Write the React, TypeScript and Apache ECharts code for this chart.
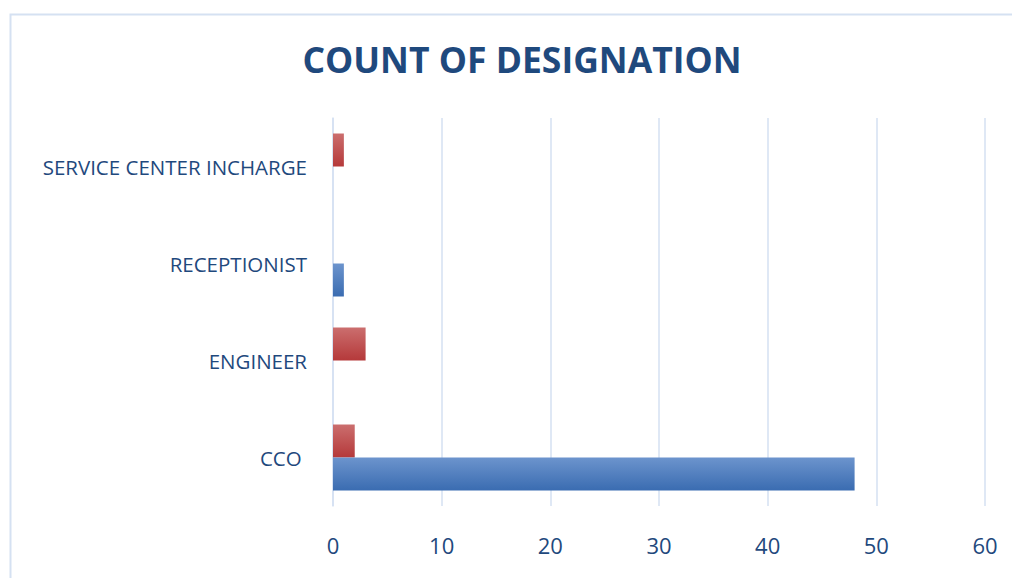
import React, { useEffect, useRef } from "react";
import * as echarts from "echarts";

const categories = ["CCO ", "ENGINEER", "RECEPTIONIST", "SERVICE CENTER INCHARGE"];
const seriesBlue = [48, 0, 1, 0];
const seriesRed = [2, 3, 0, 1];
const valueTicks = { min: 0, max: 60, interval: 10 };

const TEXT = "#1F497D";
const GRID_LINE = "#D5E1F2";
const FONT = "'Open Sans', 'Noto Sans', sans-serif";

const grad = (top: string, bottom: string) =>
  new echarts.graphic.LinearGradient(0, 0, 0, 1, [
    { offset: 0, color: top },
    { offset: 1, color: bottom },
  ]);

export default function App() {
  const ref = useRef<HTMLDivElement>(null);

  useEffect(() => {
    document.body.style.margin = "0";
    if (!ref.current) return;
    const chart = echarts.init(ref.current, undefined, { renderer: "svg" });
    chart.setOption({
      animation: false,
      backgroundColor: "#ffffff",
      title: {
        text: "COUNT OF DESIGNATION",
        left: 517,
        textAlign: "center",
        top: 36,
        textStyle: {
          color: TEXT,
          fontSize: 35.5,
          fontWeight: "bold",
          fontFamily: FONT,
        },
      },
      graphic: [
        {
          type: "rect",
          left: 8,
          top: 12,
          shape: { width: 1020, height: 600 },
          style: { fill: "none", stroke: GRID_LINE, lineWidth: 2 },
          silent: true,
        },
      ],
      grid: { left: 333, right: 27, top: 118, bottom: 72 },
      xAxis: {
        type: "value",
        min: valueTicks.min,
        max: valueTicks.max,
        interval: valueTicks.interval,
        axisLine: { show: false },
        axisTick: { show: false },
        splitLine: { show: true, lineStyle: { color: GRID_LINE, width: 1.5 } },
        axisLabel: {
          color: TEXT,
          fontSize: 22,
          fontFamily: FONT,
          margin: 28,
        },
      },
      yAxis: {
        type: "category",
        data: categories,
        axisLine: { show: true, lineStyle: { color: GRID_LINE, width: 1.5 } },
        axisTick: { show: false },
        axisLabel: {
          color: TEXT,
          fontSize: 20.5,
          fontFamily: FONT,
          margin: 26,
        },
      },
      series: [
        {
          type: "bar",
          data: seriesRed,
          barWidth: 33,
          barGap: "0%",
          itemStyle: { color: grad("#CB6E6E", "#B5393A") },
        },
        {
          type: "bar",
          data: seriesBlue,
          barWidth: 33,
          barGap: "0%",
          itemStyle: { color: grad("#6C94CD", "#3A6CB1") },
        },
      ],
    });
    return () => chart.dispose();
  }, []);

  return <div ref={ref} style={{ width: 1012, height: 578 }} />;
}
